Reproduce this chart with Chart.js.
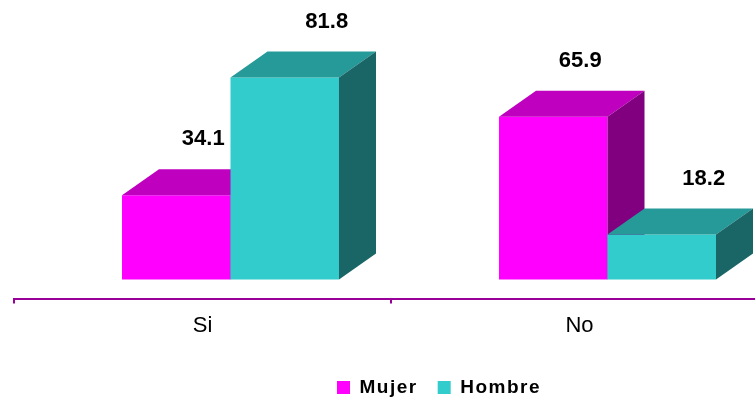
<!DOCTYPE html>
<html lang="es">
<head>
<meta charset="UTF-8">
<title>Mujer / Hombre</title>
<style>
  html, body { margin: 0; padding: 0; background: #fff; overflow: hidden; }
  #wrap { width: 864px; height: 397px; }
</style>
</head>
<body>
<div id="wrap"><canvas id="myChart" width="864" height="397"></canvas></div>

<script src="https://cdn.jsdelivr.net/npm/chart.js@4/dist/chart.umd.min.js"></script>
<script>
// data
var categories = ['Si', 'No'];
var seriesNames = ['Mujer', 'Hombre'];
var mujerValues = [34.1, 65.9];
var hombreValues = [81.8, 18.2];

// 3d look: front / top / side colours for each series
var faces = [
    { front: '#FF00FF', top: '#BF00BF', side: '#800080', labelDx: 27 },
    { front: '#33CCCC', top: '#269999', side: '#1A6666', labelDx: 42 }
];
var depthX = 37, depthY = 26;   // bar depth
var shiftX = 28;                // floor offset of the 3d block
var labelDy = 56;

function poly(ctx, pts, color) {
    ctx.beginPath();
    ctx.moveTo(pts[0][0], pts[0][1]);
    for (var k = 1; k < pts.length; k++) ctx.lineTo(pts[k][0], pts[k][1]);
    ctx.closePath();
    ctx.fillStyle = color;
    ctx.fill();
}

// wide lettering for the legend only (x tick labels are drawn later, with z: 1)
var spacing = {
    id: 'spacing',
    beforeLayout: function(chart) { chart.ctx.letterSpacing = '1.5px'; },
    afterLayout: function(chart) { chart.ctx.letterSpacing = '0px'; },
    beforeDraw: function(chart) { chart.ctx.letterSpacing = '1.5px'; }
};

// draws the bars as 3d blocks, category by category so overlaps come out right
var bars3d = {
    id: 'bars3d',
    beforeDatasetsDraw: function(chart) {
        var ctx = chart.ctx;
        ctx.letterSpacing = '0px';
        ctx.save();
        ctx.translate(shiftX, 0);
        categories.forEach(function(cat, i) {
            chart.data.datasets.forEach(function(ds, d) {
                var bar = chart.getDatasetMeta(d).data[i];
                var p = bar.getProps(['x', 'y', 'base', 'width'], true);
                var l = p.x - p.width / 2, r = p.x + p.width / 2;
                bar.draw(ctx);
                poly(ctx, [[l, p.y], [r, p.y], [r + depthX, p.y - depthY], [l + depthX, p.y - depthY]], faces[d].top);
                poly(ctx, [[r, p.y], [r + depthX, p.y - depthY], [r + depthX, p.base - depthY], [r, p.base]], faces[d].side);
            });
        });
        // value labels
        ctx.font = 'bold 22px Arial, "Liberation Sans", sans-serif';
        ctx.fillStyle = '#000';
        ctx.textAlign = 'center';
        ctx.textBaseline = 'middle';
        chart.data.datasets.forEach(function(ds, d) {
            chart.getDatasetMeta(d).data.forEach(function(bar, i) {
                ctx.fillText(ds.data[i].toFixed(1), bar.x + faces[d].labelDx, bar.y - labelDy);
            });
        });
        ctx.restore();
        return false;
    }
};

var ctx = document.getElementById('myChart').getContext('2d');
var myChart = new Chart(ctx, {
    type: 'bar',
    data: {
        labels: categories,
        datasets: [
            { label: seriesNames[0], data: mujerValues, backgroundColor: faces[0].front, borderWidth: 0 },
            { label: seriesNames[1], data: hombreValues, backgroundColor: faces[1].front, borderWidth: 0 }
        ]
    },
    options: {
        responsive: false,
        devicePixelRatio: 1,
        animation: false,
        categoryPercentage: 0.5756,
        barPercentage: 1,
        layout: { padding: { left: 14, top: 32.5, right: 0, bottom: -10 } },
        scales: {
            x: {
                offset: true,
                grid: { display: true, drawOnChartArea: false, offset: true, tickLength: 5, color: '#990099', lineWidth: 2 },
                border: { display: true, color: '#990099', width: 2 },
                ticks: { z: 1, color: '#000', padding: 9, font: { family: 'Arial, "Liberation Sans", sans-serif', size: 22 } },
                afterFit: function(s) { s.height = 59.5; }
            },
            y: {
                position: 'right',
                min: -7.7,
                max: 100,
                ticks: { display: false },
                grid: { display: false },
                border: { display: false },
                afterFit: function(s) { s.width = 96; }
            }
        },
        plugins: {
            tooltip: { enabled: false },
            legend: {
                position: 'bottom',
                labels: {
                    boxWidth: 13,
                    boxHeight: 13,
                    padding: 20,
                    color: '#000',
                    font: { family: 'Arial, "Liberation Sans", sans-serif', size: 19, weight: 'bold' }
                }
            }
        }
    },
    plugins: [spacing, bars3d]
});
</script>
</body>
</html>
